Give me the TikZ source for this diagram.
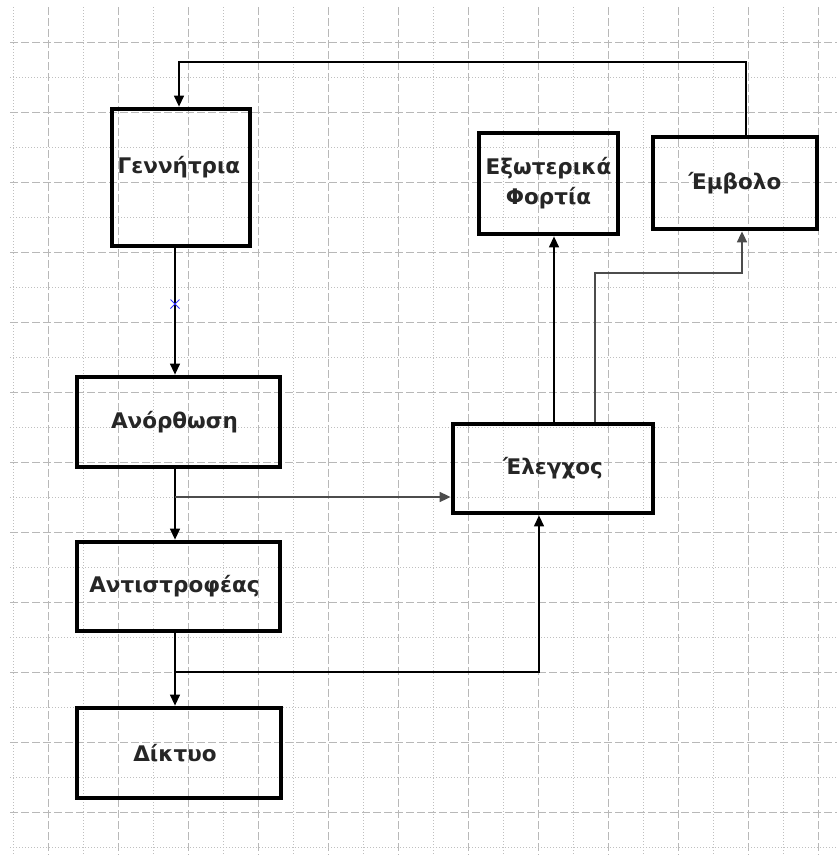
\documentclass[tikz,border=0pt]{standalone}
\usepackage{fontspec}
\setmainfont{DejaVu Sans}
\usetikzlibrary{arrows.meta,shapes.misc}
\begin{document}
\begin{tikzpicture}[x=1pt,y=-1pt,
  lbl/.style={font=\bfseries\fontsize{21.5}{30}\selectfont, text=black!85},
  box/.style={draw=black, line width=4.8pt, rectangle, inner sep=0pt,
    lbl, align=center},
  conn/.style={draw=black, line width=1.3pt,
    -{Triangle[length=11pt,width=10pt]}},
  softconn/.style={conn, draw=black!70, line width=1.7pt},
  major/.style={draw=black!28, line width=1pt, dash pattern=on 8pt off 3pt},
  minor/.style={draw=black!25, line width=0.9pt, dash pattern=on 1pt off 2pt},
  xmark/.style={cross out, draw=blue!80, line width=1pt, minimum size=8pt, inner sep=0pt}]
\useasboundingbox (0,0) rectangle (837,855);
\fill[white] (0,0) rectangle (837,855);

% background grid: dotted minor lines between dashed major lines
\foreach \x in {13,83,...,818} \draw[minor] (\x,7) -- (\x,855);
\foreach \x in {48,118,...,818} \draw[major] (\x,7) -- (\x,855);
\foreach \y in {77,147,...,850} \draw[minor] (10,\y) -- (837,\y);
\foreach \y in {42,112,...,850} \draw[major] (10,\y) -- (837,\y);

% blocks
\node[box, minimum width=138pt, minimum height=137pt,
      label={[lbl, yshift=10pt, xshift=-2pt]center:Γεννήτρια}]
      (gen) at (181,177.5) {};
\node[box, minimum width=203pt, minimum height=90pt,
      label={[lbl, xshift=-4pt]center:Ανόρθωση}] (rect) at (178.5,422) {};
\node[box, minimum width=203pt, minimum height=89pt,
      label={[lbl, xshift=-4pt]center:Αντιστροφέας}] (inv) at (178.5,586.5) {};
\node[box, minimum width=204pt, minimum height=90pt,
      label={[lbl, xshift=-4pt]center:Δίκτυο}] (net) at (179,753) {};
\node[box, minimum width=200pt, minimum height=89pt] (ctrl) at (553,468.5) {Έλεγχος};
\node[box, minimum width=139pt, minimum height=101pt] (ext) at (548.5,183.5) {Εξωτερικά\\Φορτία};
\node[box, minimum width=164pt, minimum height=92pt] (piston) at (735,183) {Έμβολο};

% routing points
\coordinate (spine) at (175,0);
\coordinate (tapA) at (175,497);
\coordinate (tapB) at (175,672);
\coordinate (upC) at (539,0);
\coordinate (upE) at (554,0);
\coordinate (upP) at (595,0);
\coordinate (kneeP) at (742,273);
\coordinate (fbR) at (746,62);
\coordinate (fbL) at (179,62);

% connectors
\draw[conn] (gen.south -| spine) -- (rect.north -| spine);
\node[xmark] (midmark) at (175,304) {};
\draw[conn] (rect.south -| spine) -- (inv.north -| spine);
\draw[conn] (inv.south -| spine) -- (net.north -| spine);
\draw[softconn] (tapA) -- (tapA -| ctrl.west);
\draw[conn] (tapB) -| (ctrl.south -| upC);
\draw[conn] (ctrl.north -| upE) -- (ext.south -| upE);
\draw[softconn] (ctrl.north -| upP) |- (kneeP) -- (piston.south -| kneeP);
\draw[conn] (piston.north -| fbR) -- (fbR) -- (fbL) -- (gen.north -| fbL);
\end{tikzpicture}
\end{document}
